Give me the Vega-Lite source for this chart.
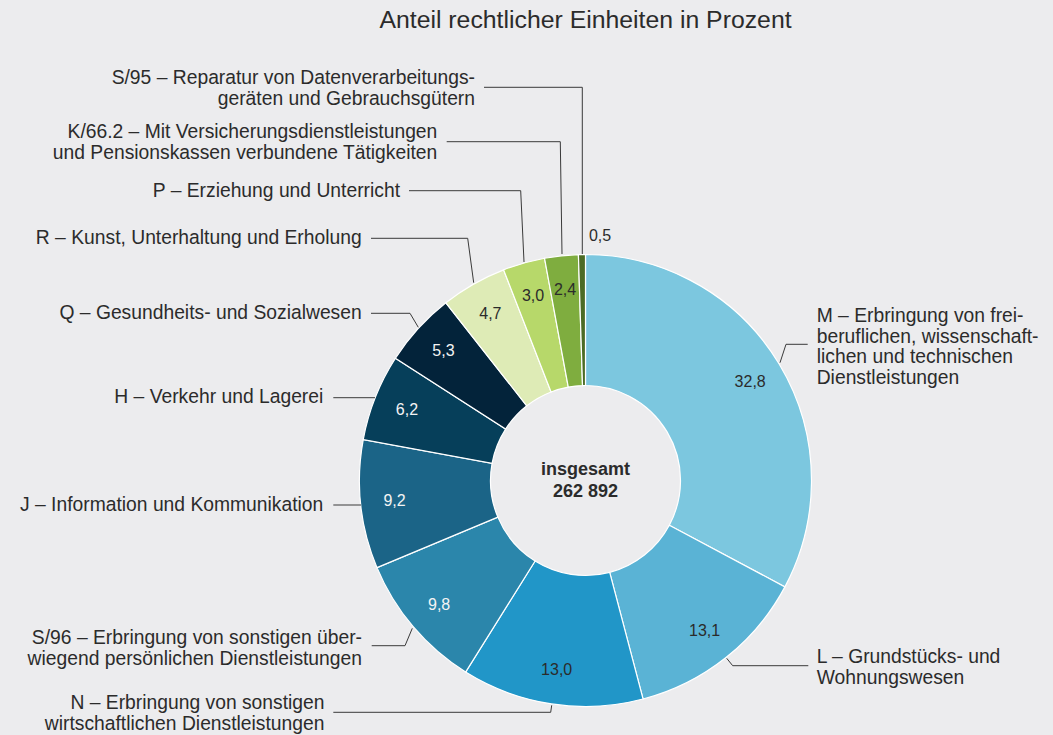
{
  "$schema": "https://vega.github.io/schema/vega-lite/v6.json",
  "width": 1053,
  "height": 735,
  "autosize": {"type": "none"},
  "padding": 0,
  "background": "#ececee",
  "config": {
    "view": {"stroke": null},
    "font": "Liberation Sans",
    "locale": {"number": {"decimal": ",", "thousands": " ", "grouping": [3], "currency": ["", " €"]}}
  },
  "datasets": {
    "shares": [
      {"code": "M", "idx": 1, "share": 32.8, "cx": 0, "cy": 0},
      {"code": "L", "idx": 2, "share": 13.1, "cx": 0, "cy": 0},
      {"code": "N", "idx": 3, "share": 13.0, "cx": 0, "cy": 0},
      {"code": "S/96", "idx": 4, "share": 9.8, "cx": 0, "cy": 0},
      {"code": "J", "idx": 5, "share": 9.2, "cx": 0, "cy": 0},
      {"code": "H", "idx": 6, "share": 6.2, "cx": 0, "cy": 0},
      {"code": "Q", "idx": 7, "share": 5.3, "cx": 0, "cy": 0},
      {"code": "R", "idx": 8, "share": 4.7, "cx": 0, "cy": 0},
      {"code": "P", "idx": 9, "share": 3.0, "cx": 0, "cy": 0},
      {"code": "K/66.2", "idx": 10, "share": 2.4, "cx": 0, "cy": 0},
      {"code": "S/95", "idx": 11, "share": 0.5, "cx": 0, "cy": 0}
    ],
    "leaders": [
      {"code": "S/95", "pt": 1, "lx": -101.5, "ly": 393.2},
      {"code": "S/95", "pt": 2, "lx": -3.2, "ly": 393.2},
      {"code": "S/95", "pt": 3, "lx": -3.2, "ly": 226.5},
      {"code": "K/66.2", "pt": 1, "lx": -138.8, "ly": 338.8},
      {"code": "K/66.2", "pt": 2, "lx": -25.2, "ly": 338.8},
      {"code": "K/66.2", "pt": 3, "lx": -23.5, "ly": 226.5},
      {"code": "P", "pt": 1, "lx": -176.5, "ly": 289.8},
      {"code": "P", "pt": 2, "lx": -64.8, "ly": 289.8},
      {"code": "P", "pt": 3, "lx": -61.5, "ly": 218.5},
      {"code": "R", "pt": 1, "lx": -214.5, "ly": 242.2},
      {"code": "R", "pt": 2, "lx": -117.8, "ly": 242.2},
      {"code": "R", "pt": 3, "lx": -111.8, "ly": 197.8},
      {"code": "Q", "pt": 1, "lx": -214.5, "ly": 167.2},
      {"code": "Q", "pt": 2, "lx": -175.5, "ly": 167.2},
      {"code": "Q", "pt": 3, "lx": -167.2, "ly": 153.2},
      {"code": "H", "pt": 1, "lx": -252.2, "ly": 82.8},
      {"code": "H", "pt": 2, "lx": -210.5, "ly": 82.8},
      {"code": "J", "pt": 1, "lx": -252.2, "ly": -24.5},
      {"code": "J", "pt": 2, "lx": -224.5, "ly": -24.5},
      {"code": "S/96", "pt": 1, "lx": -213.8, "ly": -165.2},
      {"code": "S/96", "pt": 2, "lx": -180.5, "ly": -165.2},
      {"code": "S/96", "pt": 3, "lx": -173.2, "ly": -147.8},
      {"code": "N", "pt": 1, "lx": -252.2, "ly": -231.8},
      {"code": "N", "pt": 2, "lx": -34.8, "ly": -231.8},
      {"code": "N", "pt": 3, "lx": -33.8, "ly": -224.8},
      {"code": "L", "pt": 1, "lx": 222.8, "ly": -185.2},
      {"code": "L", "pt": 2, "lx": 147.2, "ly": -185.2},
      {"code": "L", "pt": 3, "lx": 141.2, "ly": -177.8},
      {"code": "M", "pt": 1, "lx": 222.2, "ly": 136.2},
      {"code": "M", "pt": 2, "lx": 200.5, "ly": 136.2},
      {"code": "M", "pt": 3, "lx": 194.5, "ly": 117.8}
    ],
    "labelsLeft": [
      {"code": "S/95", "tx": -110.5, "ty": 402.5, "name": "S/95 – Reparatur von Datenverarbeitungs-\ngeräten und Gebrauchsgütern"},
      {"code": "K/66.2", "tx": -148.2, "ty": 348.2, "name": "K/66.2 – Mit Versicherungsdienstleistungen\nund Pensionskassen verbundene Tätigkeiten"},
      {"code": "P", "tx": -185.5, "ty": 289.8, "name": "P – Erziehung und Unterricht"},
      {"code": "R", "tx": -223.8, "ty": 242.2, "name": "R – Kunst, Unterhaltung und Erholung"},
      {"code": "Q", "tx": -223.8, "ty": 167.8, "name": "Q – Gesundheits- und Sozialwesen"},
      {"code": "H", "tx": -262.2, "ty": 83.8, "name": "H – Verkehr und Lagerei"},
      {"code": "J", "tx": -262.2, "ty": -24.5, "name": "J – Information und Kommunikation"},
      {"code": "S/96", "tx": -223.5, "ty": -157.5, "name": "S/96 – Erbringung von sonstigen über-\nwiegend persönlichen Dienstleistungen"},
      {"code": "N", "tx": -261, "ty": -222.8, "name": "N – Erbringung von sonstigen\nwirtschaftlichen Dienstleistungen"}
    ],
    "labelsRight": [
      {"code": "M", "tx": 231.2, "ty": 164.5, "name": "M – Erbringung von frei-\nberuflichen, wissenschaft-\nlichen und technischen\nDienstleistungen"},
      {"code": "L", "tx": 231.2, "ty": -176.8, "name": "L – Grundstücks- und\nWohnungswesen"}
    ],
    "titleText": [
      {"tx": 0, "ty": 459.5, "name": "Anteil rechtlicher Einheiten in Prozent"}
    ],
    "centerText": [
      {"tx": 0, "ty": 10.5, "name": "insgesamt\n262 892"}
    ],
    "smallNote": [
      {"tx": 14.5, "ty": 244.8, "name": "0,5"}
    ]
  },
  "layer": [
    {
      "data": {"name": "shares"},
      "mark": {"type": "arc", "outerRadius": 226, "innerRadius": 95, "stroke": "#ffffff", "strokeWidth": 1.2},
      "encoding": {
        "x": {"field": "cx", "type": "quantitative", "scale": {"domain": [-585.5, 467.5], "nice": false, "zero": false}, "axis": null},
        "y": {"field": "cy", "type": "quantitative", "scale": {"domain": [-254.5, 480.5], "nice": false, "zero": false}, "axis": null},
        "theta": {"field": "share", "type": "quantitative", "stack": true},
        "order": {"field": "idx", "type": "quantitative"},
        "color": {
          "field": "code",
          "type": "nominal",
          "scale": {
            "domain": ["M", "L", "N", "S/96", "J", "H", "Q", "R", "P", "K/66.2", "S/95"],
            "range": ["#7cc7df", "#5ab3d5", "#2196c8", "#2b86ab", "#1b6487", "#063f5a", "#03233a", "#deebb6", "#b7d86a", "#7fad3f", "#4c6b25"]
          },
          "legend": null
        }
      }
    },
    {
      "data": {"name": "shares"},
      "mark": {"type": "text", "radius": 192, "fontSize": 16, "align": "center", "baseline": "middle"},
      "encoding": {
        "x": {"field": "cx", "type": "quantitative"},
        "y": {"field": "cy", "type": "quantitative"},
        "theta": {"field": "share", "type": "quantitative", "stack": true},
        "order": {"field": "idx", "type": "quantitative"},
        "text": {"condition": {"test": "datum.code === 'S/95'", "value": ""}, "field": "share", "type": "quantitative", "format": ".1f"},
        "color": {"condition": {"test": "indexof(['S/96','J','H','Q'], datum.code) >= 0", "value": "#f4f4f4"}, "value": "#2b2b2b"}
      }
    },
    {
      "data": {"name": "leaders"},
      "mark": {"type": "line", "color": "#3a3a3a", "strokeWidth": 1},
      "encoding": {
        "x": {"field": "lx", "type": "quantitative"},
        "y": {"field": "ly", "type": "quantitative"},
        "detail": {"field": "code", "type": "nominal"},
        "order": {"field": "pt", "type": "quantitative"}
      }
    },
    {
      "data": {"name": "labelsLeft"},
      "mark": {"type": "text", "align": "right", "baseline": "middle", "fontSize": 19.3, "lineHeight": 20.5, "lineBreak": "\n", "color": "#2b2b2b"},
      "encoding": {
        "x": {"field": "tx", "type": "quantitative"},
        "y": {"field": "ty", "type": "quantitative"},
        "text": {"field": "name", "type": "nominal"}
      }
    },
    {
      "data": {"name": "labelsRight"},
      "mark": {"type": "text", "align": "left", "baseline": "middle", "fontSize": 19.3, "lineHeight": 20.5, "lineBreak": "\n", "color": "#2b2b2b"},
      "encoding": {
        "x": {"field": "tx", "type": "quantitative"},
        "y": {"field": "ty", "type": "quantitative"},
        "text": {"field": "name", "type": "nominal"}
      }
    },
    {
      "data": {"name": "titleText"},
      "mark": {"type": "text", "align": "center", "baseline": "middle", "fontSize": 24.8, "color": "#2b2b2b"},
      "encoding": {
        "x": {"field": "tx", "type": "quantitative"},
        "y": {"field": "ty", "type": "quantitative"},
        "text": {"field": "name", "type": "nominal"}
      }
    },
    {
      "data": {"name": "centerText"},
      "mark": {"type": "text", "align": "center", "baseline": "middle", "fontSize": 18, "fontWeight": "bold", "lineHeight": 21.7, "lineBreak": "\n", "color": "#2b2b2b"},
      "encoding": {
        "x": {"field": "tx", "type": "quantitative"},
        "y": {"field": "ty", "type": "quantitative"},
        "text": {"field": "name", "type": "nominal"}
      }
    },
    {
      "data": {"name": "smallNote"},
      "mark": {"type": "text", "align": "center", "baseline": "middle", "fontSize": 16, "color": "#2b2b2b"},
      "encoding": {
        "x": {"field": "tx", "type": "quantitative"},
        "y": {"field": "ty", "type": "quantitative"},
        "text": {"field": "name", "type": "nominal"}
      }
    }
  ]
}
